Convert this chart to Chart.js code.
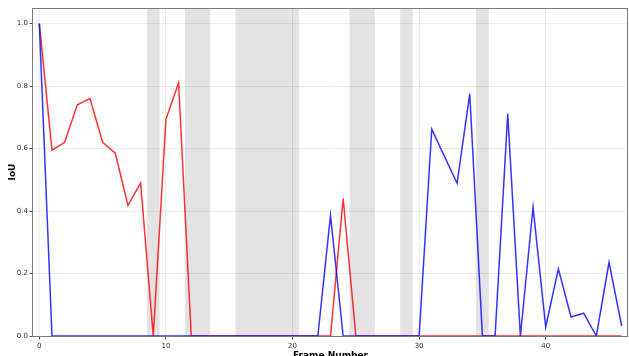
<!DOCTYPE html>
<html>
<head>
<meta charset="utf-8">
<script src="https://cdn.jsdelivr.net/npm/chart.js@4"></script>
<style>
  html, body { margin: 0; padding: 0; background: #fff; overflow: hidden; }
  #wrap { width: 629px; height: 356px; overflow: hidden; }
</style>
</head>
<body>
<div id="wrap"><canvas id="iouChart" width="629" height="364"></canvas></div>
<script>
// frame numbers
const frames = [0, 1, 2, 3, 4, 5, 6, 7, 8, 9, 10, 11, 12, 13, 14, 15, 16, 17, 18, 19, 20, 21, 22, 23,
  24, 25, 26, 27, 28, 29, 30, 31, 32, 33, 34, 35, 36, 37, 38, 39, 40, 41, 42, 43, 44, 45, 46];

// IoU per frame, red tracker
const redIoU = [1.0, 0.595, 0.62, 0.74, 0.76, 0.62, 0.585, 0.418, 0.49, 0, 0.694, 0.81, 0, 0, 0, 0, 0, 0, 0, 0, 0, 0, 0, 0,
  0.44, 0, 0, 0, 0, 0, 0, 0, 0, 0, 0, 0, 0, 0, 0, 0, 0, 0, 0, 0, 0, 0, 0];

// IoU per frame, blue tracker
const blueIoU = [1.0, 0, 0, 0, 0, 0, 0, 0, 0, 0, 0, 0, 0, 0, 0, 0, 0, 0, 0, 0, 0, 0, 0, 0.386,
  0, 0, 0, 0, 0, 0, 0, 0.662, 0.575, 0.489, 0.775, 0, 0, 0.711, 0, 0.412, 0.029, 0.215, 0.061, 0.073, 0, 0.236, 0.032];

// shaded frame ranges (occlusion)
const shadedStart = [8.5, 11.5, 15.5, 24.5, 28.5, 34.5];
const shadedEnd   = [9.5, 13.5, 20.5, 26.5, 29.5, 35.5];

const xTicks = [0, 10, 20, 30, 40];
const yTicks = [0, 0.2, 0.4, 0.6, 0.8, 1.0];

const toPoints = vals => frames.map((f, i) => ({ x: f, y: vals[i] }));

// grey bands under the grid
const bandPlugin = {
  id: 'bands',
  beforeDraw(chart) {
    const { ctx, chartArea, scales } = chart;
    ctx.save();
    ctx.fillStyle = 'rgba(128,128,128,0.22)';
    shadedStart.forEach((s, i) => {
      const x0 = scales.x.getPixelForValue(s);
      const x1 = scales.x.getPixelForValue(shadedEnd[i]);
      ctx.fillRect(x0, chartArea.top, x1 - x0, chartArea.bottom - chartArea.top);
    });
    ctx.restore();
  }
};

// box around the plot
const framePlugin = {
  id: 'frame',
  afterDatasetsDraw(chart) {
    const { ctx, chartArea } = chart;
    ctx.save();
    ctx.strokeStyle = '#7a7a7a';
    ctx.lineWidth = 1;
    ctx.strokeRect(chartArea.left - 0.5, chartArea.top + 0.5,
      chartArea.right - chartArea.left, chartArea.bottom - chartArea.top);
    ctx.restore();
  }
};

const ctx = document.getElementById('iouChart').getContext('2d');

new Chart(ctx, {
  type: 'line',
  data: {
    datasets: [{
      label: 'blue',
      data: toPoints(blueIoU),
      borderColor: 'rgba(0,0,255,0.8)',
      borderWidth: 1.5,
      pointRadius: 0,
      tension: 0,
      order: 0
    }, {
      label: 'red',
      data: toPoints(redIoU),
      borderColor: 'rgba(255,0,0,0.8)',
      borderWidth: 1.5,
      pointRadius: 0,
      tension: 0,
      order: 1
    }]
  },
  options: {
    responsive: false,
    animation: false,
    devicePixelRatio: 1,
    layout: { padding: { top: 8, right: 1, left: 0, bottom: 0 } },
    plugins: {
      legend: { display: false },
      tooltip: { enabled: false }
    },
    scales: {
      x: {
        type: 'linear',
        min: -0.5,
        max: 46.5,
        afterBuildTicks: axis => { axis.ticks = xTicks.map(v => ({ value: v })); },
        afterFit: axis => { axis.height = 28; },
        grid: { color: 'rgba(0,0,0,0.07)', tickColor: '#555', tickLength: 3.5 },
        border: { display: false },
        ticks: { color: '#333', font: { family: 'DejaVu Sans', size: 7 }, padding: 2, maxRotation: 0 },
        title: {
          display: true,
          text: 'Frame Number',
          color: '#000',
          font: { family: 'DejaVu Sans', size: 9, weight: 'bold' },
          padding: { top: 0, bottom: 3 }
        }
      },
      y: {
        min: 0,
        max: 1.05,
        afterBuildTicks: axis => { axis.ticks = yTicks.map(v => ({ value: v })); },
        afterFit: axis => { axis.width = 33; },
        grid: { color: 'rgba(0,0,0,0.07)', tickColor: '#555', tickLength: 3.5 },
        border: { display: false },
        ticks: {
          color: '#333',
          font: { family: 'DejaVu Sans', size: 7 },
          padding: 1.5,
          callback: v => v.toFixed(1)
        },
        title: {
          display: true,
          text: 'IoU',
          color: '#000',
          font: { family: 'DejaVu Sans', size: 9, weight: 'bold' },
          padding: { top: 7, bottom: 0 }
        }
      }
    }
  },
  plugins: [bandPlugin, framePlugin]
});
</script>
</body>
</html>
